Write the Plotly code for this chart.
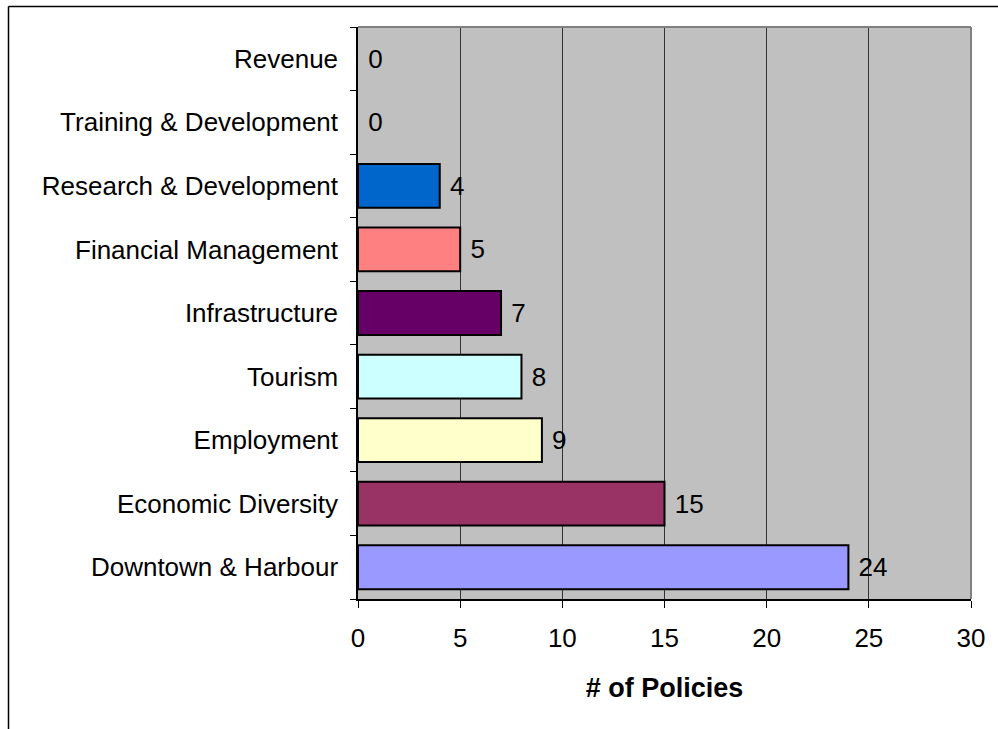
import plotly.graph_objects as go

# Policy counts by category (listed bottom to top)
categories = [
    "Downtown & Harbour",
    "Economic Diversity",
    "Employment",
    "Tourism",
    "Infrastructure",
    "Financial Management",
    "Research & Development",
    "Training & Development",
    "Revenue",
]
policies = [24, 15, 9, 8, 7, 5, 4, 0, 0]
bar_colors = [
    "#9999FF",
    "#993366",
    "#FFFFCC",
    "#CCFFFF",
    "#660066",
    "#FF8080",
    "#0066CC",
    "#CCCCFF",
    "#CCCCFF",
]
x_ticks = [0, 5, 10, 15, 20, 25, 30]

FONT = "Liberation Sans, Arial, sans-serif"

W, H = 998, 729
L, R, T, B = 358, 27, 27, 130
pw, ph = W - L - R, H - T - B


def px_x(p):
    return (p - L) / pw


def px_y(p):
    return (H - B - p) / ph


# empty bars get no outline
outline_widths = [2 if v > 0 else 0 for v in policies]

fig = go.Figure(
    go.Bar(
        x=policies,
        y=categories,
        orientation="h",
        marker=dict(color=bar_colors, line=dict(color="#000000", width=outline_widths)),
        text=["\u00a0" + str(v) for v in policies],
        textposition="outside",
        textfont=dict(family=FONT, size=26, color="#000000"),
        cliponaxis=False,
        width=0.69,
    )
)

fig.update_layout(
    width=W,
    height=H,
    margin=dict(l=L, r=R, t=T, b=B),
    paper_bgcolor="#FFFFFF",
    plot_bgcolor="#C0C0C0",
    showlegend=False,
    font=dict(family=FONT, size=26, color="#000000"),
    xaxis=dict(
        range=[0, 30],
        tickvals=x_ticks,
        ticktext=[str(t) for t in x_ticks],
        showgrid=True,
        gridcolor="#333333",
        gridwidth=1,
        zeroline=False,
        showline=True,
        linecolor="#000000",
        linewidth=1.5,
        ticks="outside",
        ticklen=7,
        tickcolor="#000000",
        tickwidth=1,
        ticklabelstandoff=8,
        tickfont=dict(family=FONT, size=26, color="#000000"),
        title=dict(
            text="<b># of Policies</b>",
            font=dict(family=FONT, size=27, color="#000000"),
            standoff=26,
        ),
        fixedrange=True,
    ),
    yaxis=dict(
        type="category",
        categoryorder="array",
        categoryarray=categories,
        range=[-0.5, len(categories) - 0.5],
        showgrid=False,
        zeroline=False,
        showline=True,
        linecolor="#000000",
        linewidth=1.5,
        ticks="outside",
        tickson="boundaries",
        ticklen=6,
        tickcolor="#000000",
        tickwidth=1,
        ticklabelstandoff=13,
        tickfont=dict(family=FONT, size=26, color="#000000"),
        fixedrange=True,
    ),
    shapes=[
        # grey top and right edges of the plot area
        dict(type="line", xref="paper", yref="paper", x0=0, x1=1, y0=1, y1=1,
             line=dict(color="#808080", width=2), layer="above"),
        dict(type="line", xref="paper", yref="paper", x0=1, x1=1, y0=0, y1=1,
             line=dict(color="#808080", width=2), layer="above"),
        # outer chart frame
        dict(type="line", xref="paper", yref="paper",
             x0=px_x(8.5), x1=px_x(1010), y0=px_y(6.5), y1=px_y(6.5),
             line=dict(color="#000000", width=1.5)),
        dict(type="line", xref="paper", yref="paper",
             x0=px_x(8.5), x1=px_x(8.5), y0=px_y(6.5), y1=px_y(740),
             line=dict(color="#000000", width=1.5)),
    ],
)

fig.write_html("out.html")
